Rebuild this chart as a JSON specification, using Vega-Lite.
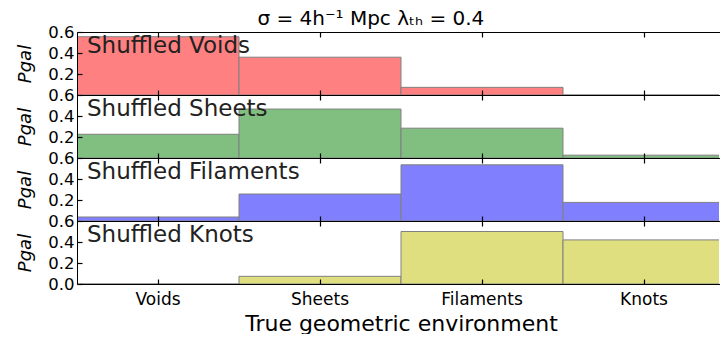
{
  "$schema": "https://vega.github.io/schema/vega-lite/v6.json",
  "autosize": {"type": "pad"},
  "padding": {"left": 16, "top": 9, "right": 0, "bottom": 0},
  "background": "white",
  "title": {"text": "σ = 4h⁻¹ Mpc λₜₕ = 0.4", "font": "DejaVu Sans", "fontSize": 20, "fontWeight": "normal", "color": "black", "anchor": "middle", "offset": -5},
  "data": {"values": [
    {"panel": "Shuffled Voids", "env": "Voids", "p": 0.555},
    {"panel": "Shuffled Voids", "env": "Sheets", "p": 0.36},
    {"panel": "Shuffled Voids", "env": "Filaments", "p": 0.073},
    {"panel": "Shuffled Voids", "env": "Knots", "p": 0.0},
    {"panel": "Shuffled Sheets", "env": "Voids", "p": 0.226},
    {"panel": "Shuffled Sheets", "env": "Sheets", "p": 0.466},
    {"panel": "Shuffled Sheets", "env": "Filaments", "p": 0.284},
    {"panel": "Shuffled Sheets", "env": "Knots", "p": 0.027},
    {"panel": "Shuffled Filaments", "env": "Voids", "p": 0.038},
    {"panel": "Shuffled Filaments", "env": "Sheets", "p": 0.257},
    {"panel": "Shuffled Filaments", "env": "Filaments", "p": 0.535},
    {"panel": "Shuffled Filaments", "env": "Knots", "p": 0.177},
    {"panel": "Shuffled Knots", "env": "Voids", "p": 0.0},
    {"panel": "Shuffled Knots", "env": "Sheets", "p": 0.073},
    {"panel": "Shuffled Knots", "env": "Filaments", "p": 0.5},
    {"panel": "Shuffled Knots", "env": "Knots", "p": 0.42}
  ]},
  "config": {
    "view": {"stroke": null},
    "font": "DejaVu Sans",
    "axis": {"domainColor": "black", "tickColor": "black", "labelColor": "black", "titleColor": "black", "grid": false, "labelFont": "DejaVu Sans", "titleFont": "DejaVu Sans", "titleFontWeight": "normal", "labelFlush": false, "labelOverlap": false, "tickWidth": 1.2, "zindex": 1}
  },
  "spacing": 0,
  "bounds": "flush",
  "vconcat": [
    {
      "width": 642, "height": 63,
      "transform": [{"filter": "datum.panel === 'Shuffled Voids'"}],
      "resolve": {"axis": {"x": "independent"}},
      "layer": [
        {"mark": {"type": "bar", "color": "#ff8080", "stroke": "#808080", "strokeWidth": 1, "opacity": 1, "clip": true},
         "encoding": {
           "x": {"field": "env", "type": "nominal", "sort": ["Voids", "Sheets", "Filaments", "Knots"], "scale": {"range": [0, 648], "paddingInner": 0, "paddingOuter": 0}, "axis": {"orient": "bottom", "labels": false, "title": null, "tickSize": -5, "zindex": 1}},
           "y": {"field": "p", "type": "quantitative", "scale": {"domain": [0, 0.6]}, "axis": {"values": [0.2, 0.4, 0.6], "format": ".1f", "tickSize": -5, "labelOverlap": false, "labelFontSize": 16.5, "labelPadding": 8, "title": "Pgal", "titleFontStyle": "italic", "titleFontSize": 18, "titlePadding": 13, "zindex": 1}}
         }},
        {"transform": [{"filter": "datum.env === 'Voids'"}],
         "mark": {"type": "text", "align": "left", "baseline": "alphabetic", "fontSize": 23, "dx": 10, "color": "#222222"},
         "encoding": {
           "x": {"field": "env", "type": "nominal", "bandPosition": 0, "sort": ["Voids", "Sheets", "Filaments", "Knots"], "axis": {"orient": "top", "labels": false, "title": null, "tickSize": -5, "bandPosition": 0.5, "zindex": 1}},
           "y": {"datum": 0.4, "type": "quantitative", "axis": {"values": [0.2, 0.4, 0.6], "format": ".1f", "tickSize": -5, "labelOverlap": false, "labelFontSize": 16.5, "labelPadding": 8, "title": "Pgal", "titleFontStyle": "italic", "titleFontSize": 18, "titlePadding": 13, "zindex": 1}},
           "text": {"field": "panel"}
         }}
      ]
    },
    {
      "width": 642, "height": 63,
      "transform": [{"filter": "datum.panel === 'Shuffled Sheets'"}],
      "resolve": {"axis": {"x": "independent"}},
      "layer": [
        {"mark": {"type": "bar", "color": "#80bf80", "stroke": "#808080", "strokeWidth": 1, "opacity": 1, "clip": true},
         "encoding": {
           "x": {"field": "env", "type": "nominal", "sort": ["Voids", "Sheets", "Filaments", "Knots"], "scale": {"range": [0, 648], "paddingInner": 0, "paddingOuter": 0}, "axis": {"orient": "bottom", "labels": false, "title": null, "tickSize": -5, "zindex": 1}},
           "y": {"field": "p", "type": "quantitative", "scale": {"domain": [0, 0.6]}, "axis": {"values": [0.2, 0.4, 0.6], "format": ".1f", "tickSize": -5, "labelOverlap": false, "labelFontSize": 16.5, "labelPadding": 8, "title": "Pgal", "titleFontStyle": "italic", "titleFontSize": 18, "titlePadding": 13, "zindex": 1}}
         }},
        {"transform": [{"filter": "datum.env === 'Voids'"}],
         "mark": {"type": "text", "align": "left", "baseline": "alphabetic", "fontSize": 23, "dx": 10, "color": "#222222"},
         "encoding": {
           "x": {"field": "env", "type": "nominal", "bandPosition": 0, "sort": ["Voids", "Sheets", "Filaments", "Knots"], "axis": {"orient": "top", "labels": false, "title": null, "tickSize": -5, "bandPosition": 0.5, "zindex": 1}},
           "y": {"datum": 0.4, "type": "quantitative", "axis": {"values": [0.2, 0.4, 0.6], "format": ".1f", "tickSize": -5, "labelOverlap": false, "labelFontSize": 16.5, "labelPadding": 8, "title": "Pgal", "titleFontStyle": "italic", "titleFontSize": 18, "titlePadding": 13, "zindex": 1}},
           "text": {"field": "panel"}
         }}
      ]
    },
    {
      "width": 642, "height": 63,
      "transform": [{"filter": "datum.panel === 'Shuffled Filaments'"}],
      "resolve": {"axis": {"x": "independent"}},
      "layer": [
        {"mark": {"type": "bar", "color": "#8080ff", "stroke": "#808080", "strokeWidth": 1, "opacity": 1, "clip": true},
         "encoding": {
           "x": {"field": "env", "type": "nominal", "sort": ["Voids", "Sheets", "Filaments", "Knots"], "scale": {"range": [0, 648], "paddingInner": 0, "paddingOuter": 0}, "axis": {"orient": "bottom", "labels": false, "title": null, "tickSize": -5, "zindex": 1}},
           "y": {"field": "p", "type": "quantitative", "scale": {"domain": [0, 0.6]}, "axis": {"values": [0.2, 0.4, 0.6], "format": ".1f", "tickSize": -5, "labelOverlap": false, "labelFontSize": 16.5, "labelPadding": 8, "title": "Pgal", "titleFontStyle": "italic", "titleFontSize": 18, "titlePadding": 13, "zindex": 1}}
         }},
        {"transform": [{"filter": "datum.env === 'Voids'"}],
         "mark": {"type": "text", "align": "left", "baseline": "alphabetic", "fontSize": 23, "dx": 10, "color": "#222222"},
         "encoding": {
           "x": {"field": "env", "type": "nominal", "bandPosition": 0, "sort": ["Voids", "Sheets", "Filaments", "Knots"], "axis": {"orient": "top", "labels": false, "title": null, "tickSize": -5, "bandPosition": 0.5, "zindex": 1}},
           "y": {"datum": 0.4, "type": "quantitative", "axis": {"values": [0.2, 0.4, 0.6], "format": ".1f", "tickSize": -5, "labelOverlap": false, "labelFontSize": 16.5, "labelPadding": 8, "title": "Pgal", "titleFontStyle": "italic", "titleFontSize": 18, "titlePadding": 13, "zindex": 1}},
           "text": {"field": "panel"}
         }}
      ]
    },
    {
      "width": 642, "height": 63,
      "transform": [{"filter": "datum.panel === 'Shuffled Knots'"}],
      "resolve": {"axis": {"x": "independent"}},
      "layer": [
        {"mark": {"type": "bar", "color": "#dfdf80", "stroke": "#808080", "strokeWidth": 1, "opacity": 1, "clip": true},
         "encoding": {
           "x": {"field": "env", "type": "nominal", "sort": ["Voids", "Sheets", "Filaments", "Knots"], "scale": {"range": [0, 648], "paddingInner": 0, "paddingOuter": 0}, "axis": {"orient": "bottom", "labels": true, "labelAngle": 0, "labelFontSize": 17, "labelPadding": 12, "title": "True geometric environment", "titleFontSize": 22, "titlePadding": 6, "tickSize": -5, "zindex": 1}},
           "y": {"field": "p", "type": "quantitative", "scale": {"domain": [0, 0.6]}, "axis": {"values": [0, 0.2, 0.4, 0.6], "format": ".1f", "tickSize": -5, "labelOverlap": false, "labelFontSize": 16.5, "labelPadding": 8, "title": "Pgal", "titleFontStyle": "italic", "titleFontSize": 18, "titlePadding": 13, "zindex": 1}}
         }},
        {"transform": [{"filter": "datum.env === 'Voids'"}],
         "mark": {"type": "text", "align": "left", "baseline": "alphabetic", "fontSize": 23, "dx": 10, "color": "#222222"},
         "encoding": {
           "x": {"field": "env", "type": "nominal", "bandPosition": 0, "sort": ["Voids", "Sheets", "Filaments", "Knots"], "axis": {"orient": "top", "labels": false, "title": null, "tickSize": -5, "bandPosition": 0.5, "zindex": 1}},
           "y": {"datum": 0.4, "type": "quantitative", "axis": {"values": [0, 0.2, 0.4, 0.6], "format": ".1f", "tickSize": -5, "labelOverlap": false, "labelFontSize": 16.5, "labelPadding": 8, "title": "Pgal", "titleFontStyle": "italic", "titleFontSize": 18, "titlePadding": 13, "zindex": 1}},
           "text": {"field": "panel"}
         }}
      ]
    }
  ]
}
